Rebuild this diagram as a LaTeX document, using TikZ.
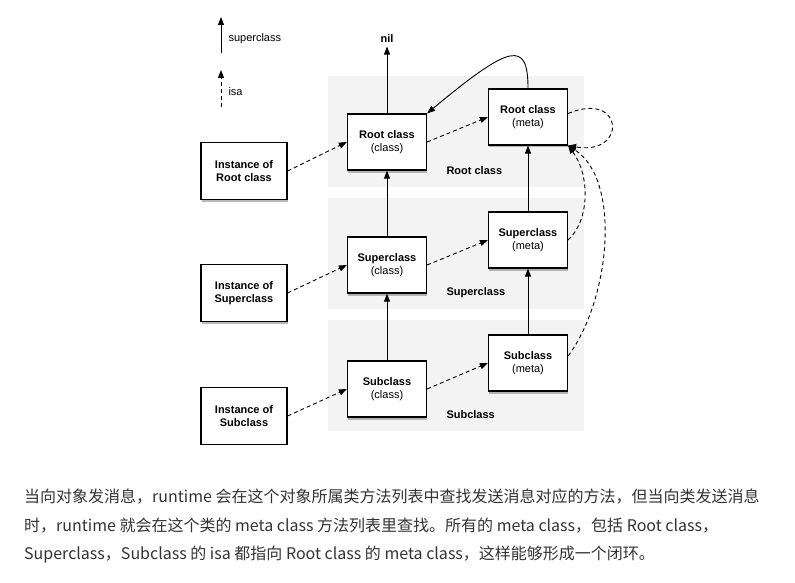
\documentclass[tikz,border=0pt]{standalone}
\usepackage{fontspec}
\setmainfont{Liberation Sans}
\newfontfamily\cjk{Noto Sans CJK SC}
\usetikzlibrary{arrows.meta,shadows}
\definecolor{fondogris}{RGB}{243,243,243}
\definecolor{textogris}{RGB}{51,51,51}

\tikzset{
  caja/.style={draw, line width=1.2pt, fill=white, minimum width=79pt, minimum height=56pt,
    align=center, font=\bfseries\fontsize{11}{13.5}\selectfont,
    drop shadow={shadow xshift=0.6pt, shadow yshift=-2.5pt, opacity=0.55}},
  cajaplana/.style={draw, line width=1.2pt, fill=white, minimum width=86pt, minimum height=57pt,
    align=center, font=\bfseries\fontsize{11}{13.5}\selectfont},
  banda/.style={fill=fondogris, draw=none},
  rotulo/.style={anchor=west, font=\bfseries\fontsize{11}{13}\selectfont},
  isa/.style={->, dash pattern=on 4pt off 3pt, line width=0.9pt},
  super/.style={->, line width=0.9pt},
  parrafo/.style={anchor=base west, inner sep=0pt, text=textogris, font=\cjk\fontsize{16}{20}\selectfont}
}

\begin{document}
\begin{tikzpicture}[x=1pt, y=-1pt, >={Triangle[length=8pt,width=6pt]}]
    \useasboundingbox (0,0) rectangle (795,583);
    % bandas de fondo
    \fill[banda] (328,76) rectangle (584,187);
    \fill[banda] (328,198) rectangle (584,309);
    \fill[banda] (328,320) rectangle (584,431);
    \node[rotulo] (bandroot) at (443,171) {Root class};
    \node[rotulo] (bandsuper) at (443,293) {Superclass};
    \node[rotulo] (bandsub) at (443,415) {Subclass};
    % leyenda
    \coordinate (legsupa) at (221,53);
    \coordinate (legsupb) at (221,17);
    \coordinate (legisaa) at (221,107);
    \coordinate (legisab) at (221,70);
    \draw[super] (legsupa) -- (legsupb);
    \draw[isa] (legisaa) -- (legisab);
    \node[anchor=west, font=\fontsize{11}{13}\selectfont] (legsup) at (225,39) {superclass};
    \node[anchor=west, font=\fontsize{11}{13}\selectfont] (legisa) at (225,92) {isa};
    % instancias
    \node[caja, minimum width=86pt, minimum height=57pt] (instroot) at (244,171) {Instance of\\Root class};
    \node[caja, minimum width=86pt, minimum height=57pt] (instsuper) at (244,293) {Instance of\\Superclass};
    \node[cajaplana] (instsub) at (244,416) {Instance of\\Subclass};
    % clases
    \node[caja] (rootclass) at (387,142) {Root class\\\mdseries(class)};
    \node[caja] (superclass) at (387,265) {Superclass\\\mdseries(class)};
    \node[caja] (subclass) at (387,389) {Subclass\\\mdseries(class)};
    % metaclases
    \node[caja] (rootmeta) at (528,117) {Root class\\\mdseries(meta)};
    \node[caja] (supermeta) at (528,240) {Superclass\\\mdseries(meta)};
    \node[caja] (submeta) at (528,363) {Subclass\\\mdseries(meta)};
    \node[font=\bfseries\fontsize{11}{13}\selectfont] (nil) at (387,39) {nil};
    % superclass
    \draw[super] (rootclass) -- (nil);
    \draw[super] (superclass) -- (rootclass);
    \draw[super] (subclass) -- (superclass);
    \draw[super] (supermeta) -- (rootmeta);
    \draw[super] (submeta) -- (supermeta);
    \draw[super] (rootmeta.north) .. controls +(0,-48) and +(84,-70) .. (rootclass.north east);
    % isa
    \draw[isa] (instroot.east) -- (rootclass.west);
    \draw[isa] (instsuper.east) -- (superclass.west);
    \draw[isa] (instsub.east) -- (subclass.west);
    \draw[isa] (rootclass.east) -- (rootmeta.west);
    \draw[isa] (superclass.east) -- (supermeta.west);
    \draw[isa] (subclass.east) -- (submeta.west);
    \draw[isa] (rootmeta.5) .. controls (624,90) and (628,156) .. (rootmeta.south east);
    \draw[isa] (supermeta.east) .. controls (590,220) and (590,175) .. (rootmeta.south east);
    \draw[isa] (submeta.10) .. controls (610,300) and (622,180) .. (rootmeta.south east);
    % texto
    \node[parrafo] (linea1) at (24,502) {当向对象发消息，runtime 会在这个对象所属类方法列表中查找发送消息对应的方法，但当向类发送消息};
    \node[parrafo] (linea2) at (24,531) {时，runtime 就会在这个类的 meta class 方法列表里查找。所有的 meta class，包括 Root class，};
    \node[parrafo] (linea3) at (24,559) {Superclass，Subclass 的 isa 都指向 Root class 的 meta class，这样能够形成一个闭环。};
\end{tikzpicture}
\end{document}
